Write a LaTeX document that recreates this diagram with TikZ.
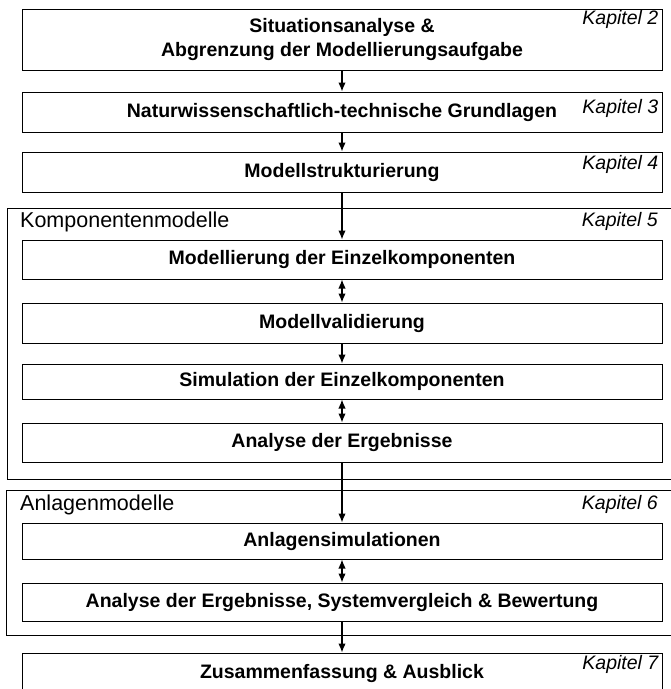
\documentclass[tikz,border=0pt]{standalone}
\usepackage{fontspec}
\setmainfont{Liberation Sans}
\usepackage{tikz}
\usetikzlibrary{positioning,arrows.meta}

\begin{document}
\begin{tikzpicture}[x=1pt, y=-1pt,
    stepbox/.style={rectangle, draw=black, line width=1pt, minimum width=640pt, inner sep=0pt, align=center, font=\fontsize{19.5}{24}\selectfont\bfseries},
    groupframe/.style={draw=black, line width=1pt},
    grouplabel/.style={anchor=west, inner sep=0pt, font=\fontsize{21.5}{24}\selectfont},
    chapter/.style={anchor=north east, inner sep=0pt, font=\fontsize{19.5}{22}\selectfont\itshape},
    flow/.style={-{Latex[length=9pt,width=7.5pt]}, line width=1.3pt},
    twoway/.style={{Latex[length=9pt,width=7.5pt]}-{Latex[length=9pt,width=7.5pt]}, line width=1.3pt}
]
    \useasboundingbox (0,0) rectangle (671,689);
    \clip (0,0) rectangle (671,689);

    % Top - Vorarbeiten
    \node[stepbox, minimum height=61pt] (situation) at (342, 39.5) {Situationsanalyse \&\\Abgrenzung der Modellierungsaufgabe};
    \node[stepbox, minimum height=40pt] (grundlagen) at (342, 112) {Naturwissenschaftlich-technische Grundlagen};
    \node[stepbox, minimum height=40pt] (struktur) at (342, 172) {Modellstrukturierung};
    \node[chapter] (k2) at ([xshift=-4pt, yshift=-2pt]situation.north east) {Kapitel 2};
    \node[chapter] (k3) at ([xshift=-4pt, yshift=-8pt]grundlagen.north east) {Kapitel 3};
    \node[chapter] (k4) at ([xshift=-4pt, yshift=-4pt]struktur.north east) {Kapitel 4};

    % Frame 1 - Komponentenmodelle
    \draw[groupframe] (7, 208) rectangle (690, 479);
    \node[grouplabel] (komp) at (20, 222) {Komponentenmodelle};
    \node[chapter, anchor=east] (k5) at (658, 221) {Kapitel 5};
    \node[stepbox, minimum height=39pt] (einzel) at (342, 259.5) {Modellierung der Einzelkomponenten};
    \node[stepbox, minimum height=40pt] (valid) at (342, 323) {Modellvalidierung};
    \node[stepbox, minimum height=35pt] (simu) at (342, 381.5) {Simulation der Einzelkomponenten};
    \node[stepbox, minimum height=39pt] (analyse) at (342, 442.5) {Analyse der Ergebnisse};

    % Frame 2 - Anlagenmodelle
    \draw[groupframe] (6, 490) rectangle (690, 635);
    \node[grouplabel] (anl) at (20, 505) {Anlagenmodelle};
    \node[chapter, anchor=east] (k6) at (658, 504) {Kapitel 6};
    \node[stepbox, minimum height=36pt] (anlsim) at (342, 541) {Anlagensimulationen};
    \node[stepbox, minimum height=38pt] (bewert) at (342, 602) {Analyse der Ergebnisse, Systemvergleich \& Bewertung};

    % Bottom - Ausblick
    \node[stepbox, minimum height=40pt] (ausblick) at (342, 673) {Zusammenfassung \& Ausblick};
    \node[chapter] (k7) at ([xshift=-4pt, yshift=-3pt]ausblick.north east) {Kapitel 7};

    % Connectors
    \draw[flow] (situation) -- (grundlagen);
    \draw[flow] (grundlagen) -- (struktur);
    \draw[flow] (struktur) -- (einzel);
    \draw[twoway] (einzel) -- (valid);
    \draw[flow] (valid) -- (simu);
    \draw[twoway] (simu) -- (analyse);
    \draw[flow] (analyse) -- (anlsim);
    \draw[twoway] (anlsim) -- (bewert);
    \draw[flow] (bewert) -- (ausblick);
\end{tikzpicture}
\end{document}
